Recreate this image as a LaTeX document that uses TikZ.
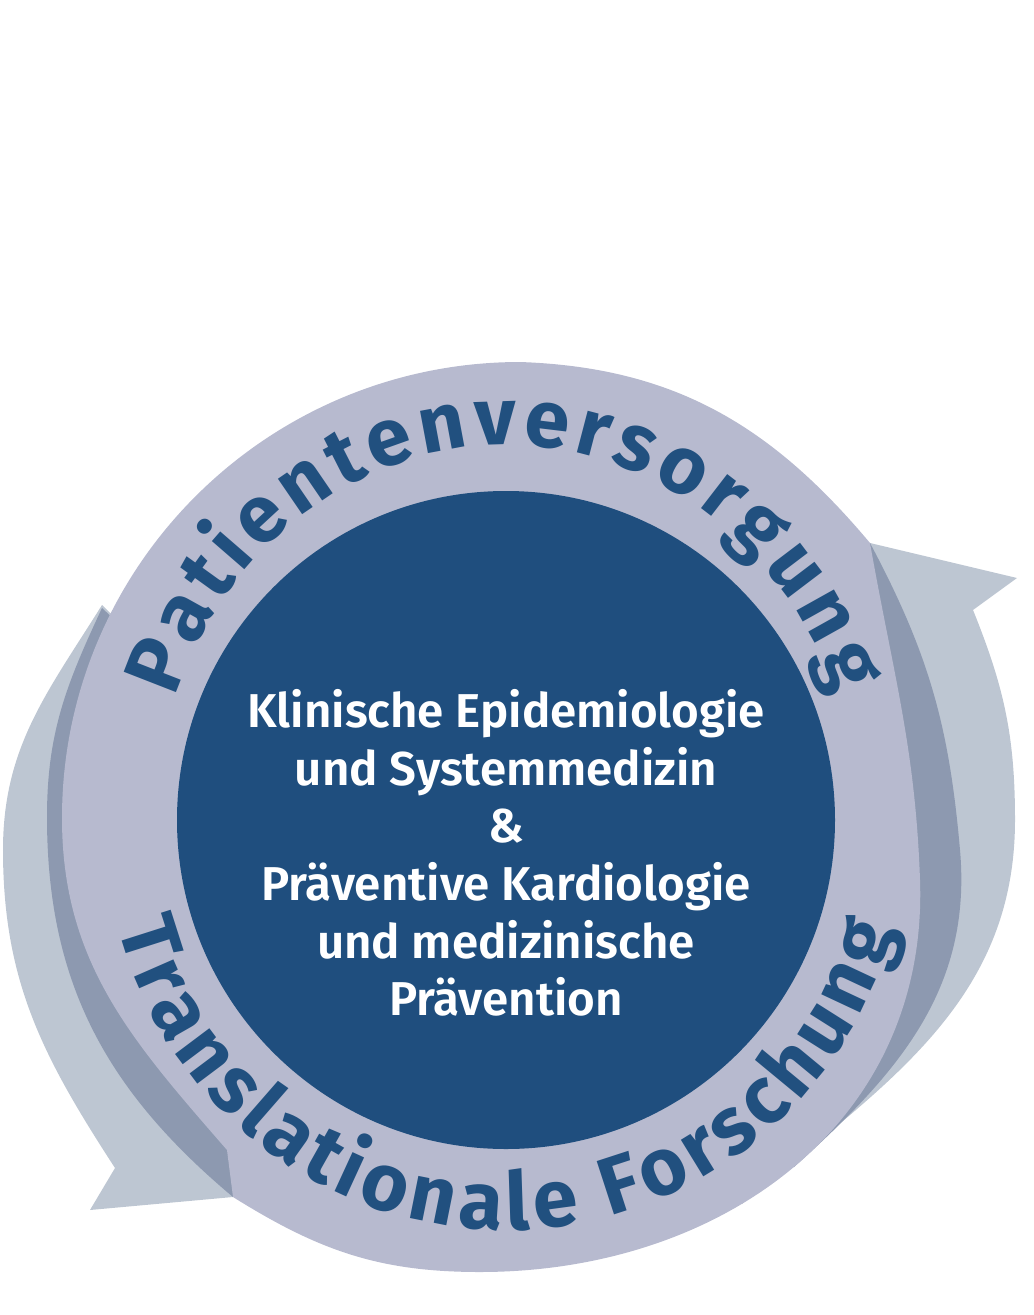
\documentclass[tikz,border=0pt]{standalone}
\usepackage{fontspec}
\setmainfont{Fira Sans}
\newfontfamily\corefam{Fira Sans SemiBold}
\usepackage{tikz}
\usetikzlibrary{decorations.text}
\definecolor{lightarrow}{HTML}{BDC6D2}
\definecolor{lavender}{HTML}{B7BACF}
\definecolor{sideband}{HTML}{8D99B0}
\definecolor{coreblue}{HTML}{1F4E7E}
\definecolor{ringblue}{HTML}{21507F}
\newcommand{\ringfont}{\fontsize{23}{23}\selectfont\bfseries}
\newcommand{\corefont}{\corefam\fontsize{13.5}{16.4}\selectfont}
\tikzset{
	ringtext/.style={decorate,decoration={text along path,text align=fit to path,text color=ringblue,text={#1}}}
}
\begin{document}
\begin{tikzpicture}[x=0.01cm,y=0.01cm]
	\useasboundingbox (0,0) rectangle (1034,-1315);
	\fill[lightarrow] (870,-543) -- (1017,-578) -- (973,-610) to[out=-68,in=90] (1015,-820) to[out=-90,in=40] (742,-1204) -- (700,-1100) -- (800,-700) -- cycle;
	\fill[lightarrow] (90,-1210) -- (233,-1197) -- (300,-1100) -- (200,-700) -- (102,-605) to[out=-122,in=90] (3,-850) to[out=-90,in=123] (115,-1168) -- cycle;
	\fill[sideband] (870,-543) to[out=-62,in=95] (960,-850) to[out=-85,in=42] (794,-1167) -- (760,-1000) -- (820,-700) -- cycle;
	\fill[sideband] (102,-608) to[out=-115,in=90] (47,-817) to[out=-90,in=140] (233,-1197) -- (300,-1100) -- (200,-700) -- cycle;
	\fill[lavender] (227,-1150) to[out=131,in=-90] (62,-818) to[out=90,in=180] (520,-362) to[out=-2,in=130] (870,-543) to[out=-80,in=92] (920,-880) to[out=-88,in=0,looseness=1.05] (480,-1272) to[out=180,in=-32] (233,-1197) -- cycle;
	\fill[coreblue] (506,-820) circle (329);
	\path[ringtext={|\ringfont|Patientenversorgung}] (506,-820) ++(161:350 and 375) arc[start angle=161,end angle=19.5,x radius=350,y radius=375];
	\path[ringtext={|\ringfont|Translationale Forschung}] (506,-820) ++(195:402 and 410) arc[start angle=195,end angle=344.7,x radius=402,y radius=410];
	\node[text=white,align=center,font=\corefont] (core) at (506,-853) {Klinische Epidemiologie\\und Systemmedizin\\\&\\Präventive Kardiologie\\und medizinische\\Prävention};
\end{tikzpicture}
\end{document}
